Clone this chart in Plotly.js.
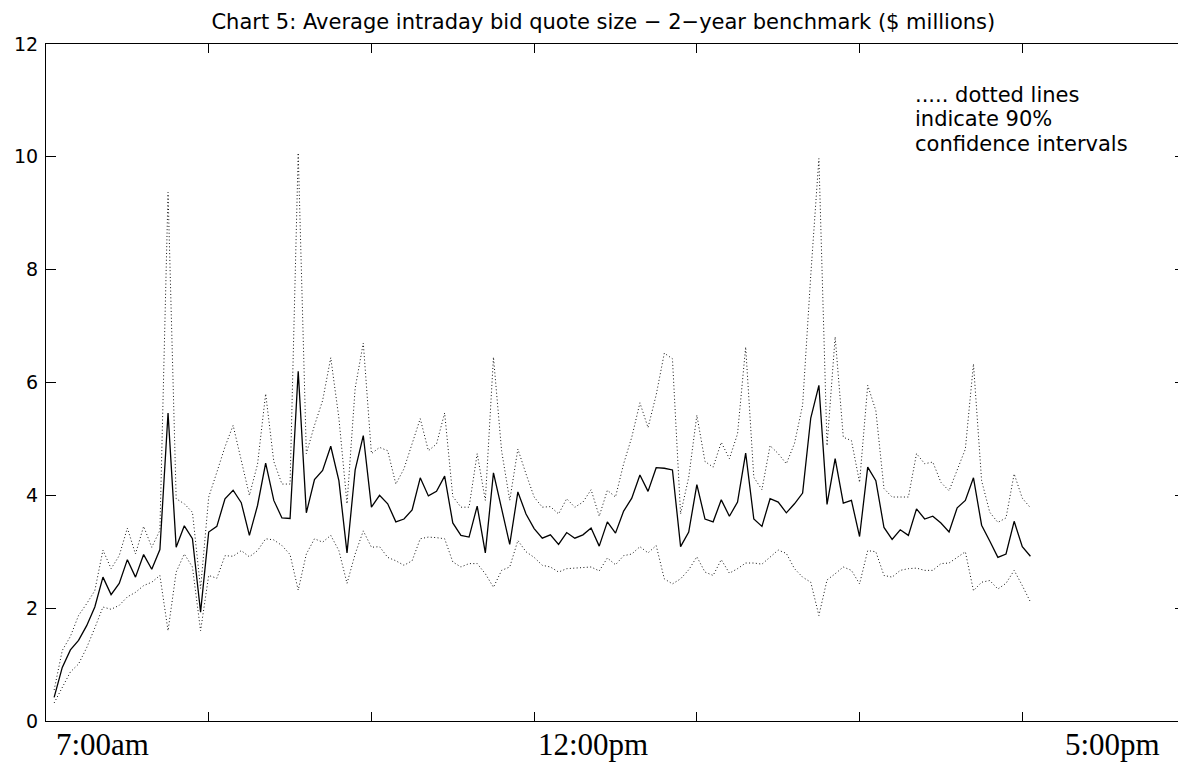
<!DOCTYPE html>
<html>
<head>
<meta charset="utf-8">
<script src="https://cdn.plot.ly/plotly-3.0.1.min.js"></script>
<style>
  html, body { margin: 0; padding: 0; overflow: hidden; background: #fff; }
  #chart { width: 1190px; height: 763px; }
</style>
</head>
<body>
<div id="chart"></div>
<script>
// Average intraday bid quote size, 5-minute intervals (index 1..121), $ millions
const meanSize = [
  0.42, 0.95, 1.26, 1.43, 1.69, 2.02, 2.55, 2.24, 2.44, 2.86,
  2.55, 2.95, 2.69, 3.04, 5.46, 3.08, 3.46, 3.23, 1.93, 3.35,
  3.45, 3.94, 4.09, 3.87, 3.29, 3.82, 4.57, 3.91, 3.60, 3.59,
  6.20, 3.69, 4.28, 4.44, 4.87, 4.26, 2.98, 4.45, 5.06, 3.79,
  4.00, 3.85, 3.53, 3.58, 3.74, 4.31, 3.99, 4.07, 4.34, 3.51,
  3.29, 3.26, 3.81, 2.98, 4.40, 3.76, 3.13, 4.06, 3.67, 3.41,
  3.24, 3.30, 3.13, 3.34, 3.24, 3.30, 3.42, 3.10, 3.53, 3.33,
  3.72, 3.95, 4.36, 4.07, 4.49, 4.48, 4.45, 3.09, 3.35, 4.19,
  3.58, 3.53, 3.92, 3.63, 3.88, 4.75, 3.58, 3.45, 3.94, 3.88,
  3.69, 3.85, 4.04, 5.37, 5.95, 3.84, 4.65, 3.86, 3.91, 3.27,
  4.50, 4.26, 3.43, 3.22, 3.39, 3.29, 3.76, 3.58, 3.63, 3.51,
  3.35, 3.78, 3.91, 4.31, 3.47, 3.19, 2.90, 2.96, 3.54, 3.09, 2.92
];
const upperCI = [
  0.55, 1.25, 1.50, 1.87, 2.08, 2.31, 3.03, 2.70, 2.93, 3.42,
  2.96, 3.45, 3.08, 3.38, 9.37, 3.94, 3.85, 3.70, 2.35, 3.97,
  4.41, 4.86, 5.24, 4.60, 4.00, 4.55, 5.80, 4.60, 4.20, 4.20,
  10.07, 4.74, 5.24, 5.68, 6.44, 5.37, 3.85, 5.90, 6.70, 4.74,
  4.85, 4.79, 4.20, 4.47, 4.91, 5.36, 4.79, 4.91, 5.46, 3.98,
  3.79, 3.79, 4.74, 3.91, 6.45, 4.79, 3.91, 4.82, 4.38, 3.97,
  3.79, 3.80, 3.67, 3.94, 3.79, 3.88, 4.10, 3.63, 4.09, 3.97,
  4.56, 5.03, 5.64, 5.20, 5.78, 6.52, 6.42, 3.67, 4.32, 5.42,
  4.60, 4.50, 4.94, 4.65, 5.09, 6.63, 4.32, 4.10, 4.88, 4.74,
  4.56, 4.92, 5.60, 7.90, 9.97, 4.88, 6.81, 5.03, 4.97, 4.23,
  5.95, 5.50, 4.12, 3.97, 3.97, 3.97, 4.74, 4.56, 4.59, 4.23,
  4.08, 4.44, 4.82, 6.33, 4.26, 3.70, 3.52, 3.60, 4.38, 3.95, 3.78
];
const lowerCI = [
  0.32, 0.60, 0.87, 1.01, 1.30, 1.65, 2.02, 1.98, 2.05, 2.20,
  2.28, 2.40, 2.46, 2.58, 1.60, 2.64, 2.96, 2.73, 1.60, 2.58,
  2.53, 2.93, 2.92, 3.02, 2.91, 3.02, 3.23, 3.21, 3.11, 2.95,
  2.32, 2.96, 3.23, 3.17, 3.29, 3.02, 2.44, 2.96, 3.37, 3.08,
  3.09, 2.90, 2.84, 2.76, 2.84, 3.23, 3.26, 3.25, 3.23, 2.82,
  2.73, 2.79, 2.79, 2.61, 2.37, 2.67, 2.73, 3.20, 3.00, 2.90,
  2.76, 2.73, 2.64, 2.70, 2.71, 2.73, 2.73, 2.66, 2.89, 2.77,
  2.93, 2.96, 3.09, 2.98, 3.11, 2.52, 2.43, 2.52, 2.68, 2.91,
  2.64, 2.58, 2.86, 2.62, 2.70, 2.80, 2.80, 2.78, 2.90, 3.03,
  2.97, 2.70, 2.55, 2.46, 1.87, 2.50, 2.61, 2.73, 2.67, 2.43,
  3.02, 3.00, 2.58, 2.55, 2.67, 2.70, 2.71, 2.67, 2.67, 2.79,
  2.80, 2.90, 3.00, 2.31, 2.46, 2.49, 2.34, 2.44, 2.67, 2.40, 2.11
];
const timeLabels = ["7:00am", "12:00pm", "5:00pm"];
const timeLabelPos = [7.0, 67.2, 131.1];
const noteLines = ["..... dotted lines", "indicate 90%", "confidence intervals"];
const titleText = "Chart 5: Average intraday bid quote size \u2212 2\u2212year benchmark ($ millions)";

const xIdx = meanSize.map((_, i) => i + 1);

const traces = [
  { x: xIdx, y: upperCI, mode: "lines", line: { color: "#111", width: 1, dash: "1px,2.4px" }, hoverinfo: "skip" },
  { x: xIdx, y: lowerCI, mode: "lines", line: { color: "#111", width: 1, dash: "1px,2.4px" }, hoverinfo: "skip" },
  { x: xIdx, y: meanSize, mode: "lines", line: { color: "#000", width: 1.3 } }
];

const annotations = [];
timeLabels.forEach((t, k) => {
  annotations.push({
    text: t, xref: "x", yref: "paper", x: timeLabelPos[k], y: 0,
    yshift: -23, xanchor: "center", yanchor: "middle", showarrow: false,
    font: { family: "Liberation Serif, Times New Roman, serif", size: 31, color: "#000" }
  });
});
const noteY = [0.9251, 0.8889, 0.8527];
noteLines.forEach((t, k) => {
  annotations.push({
    text: t, xref: "paper", yref: "paper", x: 0.761, y: noteY[k],
    xanchor: "left", yanchor: "middle", showarrow: false,
    font: { family: "DejaVu Sans, sans-serif", size: 21, color: "#000" }
  });
});

const layout = {
  width: 1190, height: 763,
  margin: { l: 46, r: 5, t: 44, b: 42, pad: 0 },
  paper_bgcolor: "#fff", plot_bgcolor: "#fff",
  showlegend: false,
  title: {
    text: titleText, xref: "container", yref: "container",
    x: 0.507, y: 0.971, xanchor: "center", yanchor: "middle",
    font: { family: "DejaVu Sans, sans-serif", size: 21, color: "#000" }
  },
  xaxis: {
    range: [0, 140], tickmode: "linear", tick0: 0, dtick: 20,
    ticks: "inside", ticklen: 9, tickwidth: 1, tickcolor: "#000",
    showticklabels: false, showgrid: false, zeroline: false,
    showline: true, linecolor: "#000", linewidth: 1, mirror: "ticks"
  },
  yaxis: {
    range: [0, 12], tickmode: "linear", tick0: 0, dtick: 2,
    ticks: "inside", ticklen: 10, tickwidth: 1, tickcolor: "#000",
    showgrid: false, zeroline: false,
    showline: true, linecolor: "#000", linewidth: 1, mirror: "ticks",
    ticklabelstandoff: 3,
    tickfont: { family: "DejaVu Sans, sans-serif", size: 19, color: "#000" }
  },
  annotations: annotations
};

Plotly.newPlot("chart", traces, layout, { staticPlot: true, displayModeBar: false });
</script>
</body>
</html>
